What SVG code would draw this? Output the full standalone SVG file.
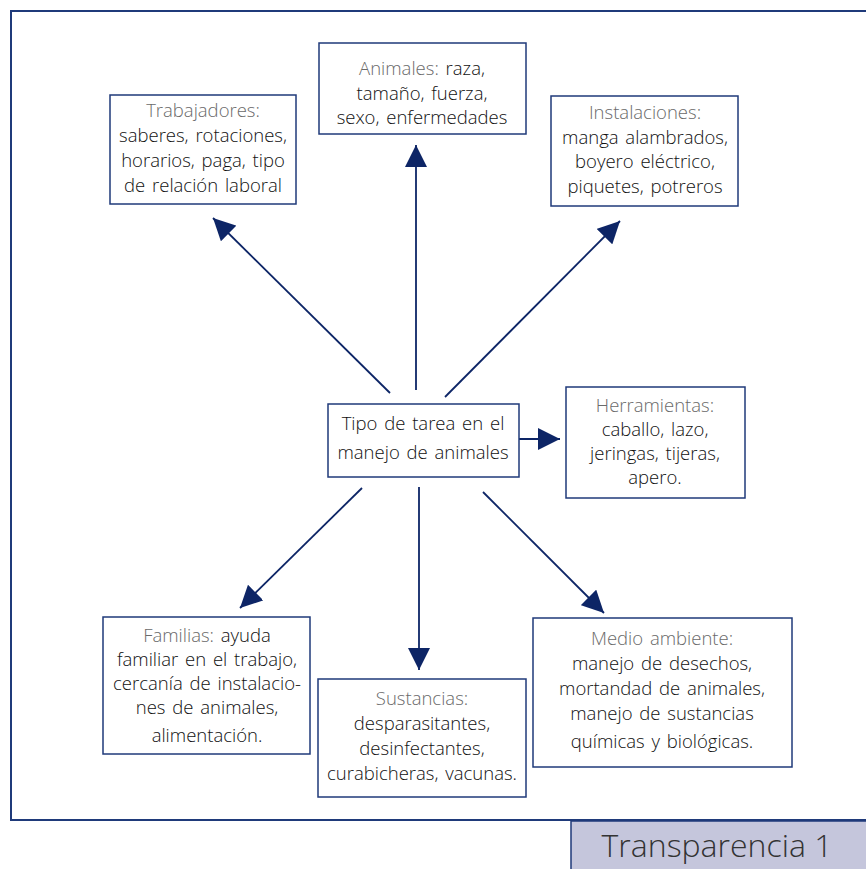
<svg xmlns="http://www.w3.org/2000/svg" width="866" height="869" viewBox="0 0 866 869">
<style>
.box{fill:#fff;stroke:#1f3a7a;stroke-width:1.5}
text{font-family:"Open Sans","Liberation Sans",sans-serif;font-size:18.5px;fill:#111;text-anchor:middle;font-weight:300;word-spacing:2px}
.h{fill:#6a6a6a}
.c{stroke:#0d2566;stroke-width:1.8;fill:none}
</style>
<defs>
<marker id="a" viewBox="0 0 22 22" refX="22" refY="11" markerWidth="22" markerHeight="22" markerUnits="userSpaceOnUse" orient="auto">
<path d="M0,0 L22,11 L0,22 z" fill="#0d2566"/>
</marker>
</defs>
<rect x="11" y="11" width="870" height="809" fill="none" stroke="#1f3a7a" stroke-width="2"/>
<g id="transparencia">
<rect x="571" y="821" width="300" height="52" fill="#c5c6dc" stroke="#1f3a7a" stroke-width="1.5"/>
<text x="717" y="857" style="font-size:32px;fill:#333;word-spacing:0">Transparencia 1</text>
</g>
<g id="connectors">
<line class="c" x1="390" y1="393" x2="213" y2="218" marker-end="url(#a)"/>
<line class="c" x1="416" y1="390" x2="416" y2="145" marker-end="url(#a)"/>
<line class="c" x1="445" y1="397" x2="620" y2="221" marker-end="url(#a)"/>
<line class="c" x1="517" y1="439" x2="560" y2="439" marker-end="url(#a)"/>
<line class="c" x1="362" y1="488" x2="240" y2="608" marker-end="url(#a)"/>
<line class="c" x1="419" y1="487" x2="419" y2="670" marker-end="url(#a)"/>
<line class="c" x1="483" y1="492" x2="604" y2="613" marker-end="url(#a)"/>
</g>
<g id="trabajadores">
<rect class="box" x="110" y="95" width="186" height="109"/>
<text class="h" x="203" y="117">Trabajadores:</text>
<text x="203" y="142">saberes, rotaciones,</text>
<text x="203" y="167">horarios, paga, tipo</text>
<text x="203" y="192">de relación laboral</text>
</g>
<g id="animales">
<rect class="box" x="319" y="43" width="207" height="91"/>
<text x="422" y="75"><tspan class="h">Animales:</tspan> raza,</text>
<text x="422" y="100">tamaño, fuerza,</text>
<text x="422" y="124">sexo, enfermedades</text>
</g>
<g id="instalaciones">
<rect class="box" x="551" y="96" width="187" height="110"/>
<text class="h" x="645" y="119">Instalaciones:</text>
<text x="645" y="144">manga alambrados,</text>
<text x="645" y="168">boyero eléctrico,</text>
<text x="645" y="193">piquetes, potreros</text>
</g>
<g id="centro">
<rect class="box" x="328" y="404" width="191" height="73"/>
<text x="423" y="430">Tipo de tarea en el</text>
<text x="423" y="459">manejo de animales</text>
</g>
<g id="herramientas">
<rect class="box" x="566" y="387" width="179" height="111"/>
<text class="h" x="655" y="412">Herramientas:</text>
<text x="655" y="436">caballo, lazo,</text>
<text x="655" y="460">jeringas, tijeras,</text>
<text x="655" y="484">apero.</text>
</g>
<g id="familias">
<rect class="box" x="103" y="617" width="207" height="137"/>
<text x="207" y="642"><tspan class="h">Familias:</tspan> ayuda</text>
<text x="207" y="666">familiar en el trabajo,</text>
<text x="207" y="690">cercanía de instalacio-</text>
<text x="207" y="714">nes de animales,</text>
<text x="207" y="742">alimentación.</text>
</g>
<g id="sustancias">
<rect class="box" x="318" y="679" width="208" height="118"/>
<text class="h" x="422" y="705">Sustancias:</text>
<text x="422" y="730">desparasitantes,</text>
<text x="422" y="755">desinfectantes,</text>
<text x="422" y="780">curabicheras, vacunas.</text>
</g>
<g id="medio">
<rect class="box" x="533" y="618" width="259" height="149"/>
<text class="h" x="662" y="645">Medio ambiente:</text>
<text x="662" y="670">manejo de desechos,</text>
<text x="662" y="695">mortandad de animales,</text>
<text x="662" y="720">manejo de sustancias</text>
<text x="662" y="748">químicas y biológicas.</text>
</g>
</svg>
